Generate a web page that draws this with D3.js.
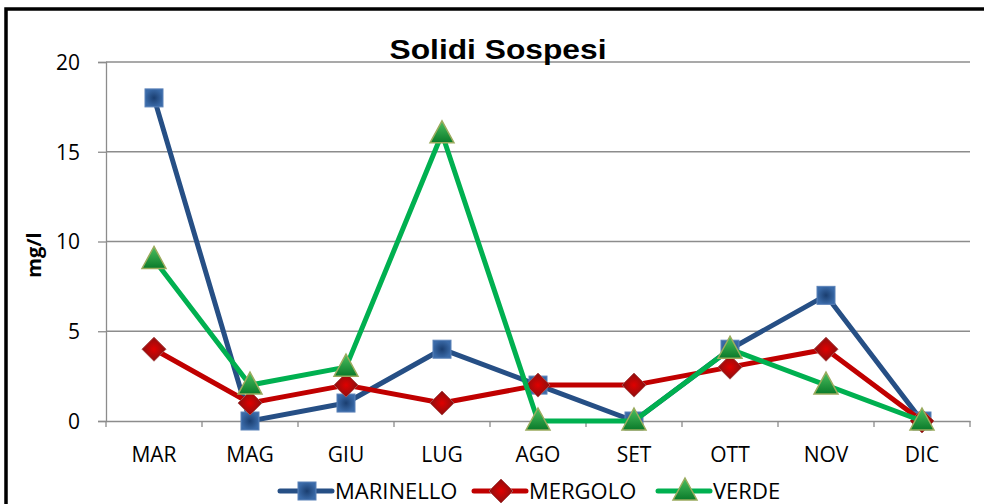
<!DOCTYPE html>
<html>
<head>
<meta charset="utf-8">
<script src="https://cdn.jsdelivr.net/npm/d3@7"></script>
<style>
  body { margin: 0; background: #fff; }
  svg { display: block; }
</style>
</head>
<body>
<div id="chart"></div>
<script>
// chart data
let months = ["MAR", "MAG", "GIU", "LUG", "AGO", "SET", "OTT", "NOV", "DIC"];
let marinello = [18, 0, 1, 4, 2, 0, 4, 7, 0];
let mergolo = [4, 1, 2, 1, 2, 2, 3, 4, 0];
let verde = [9, 2, 3, 16, 0, 0, 4, 2, 0];
let yTicks = [0, 5, 10, 15, 20];

let series = [
    {name: "MARINELLO", values: marinello, color: "#264F85", shape: "square"},
    {name: "MERGOLO", values: mergolo, color: "#C00000", shape: "diamond"},
    {name: "VERDE", values: verde, color: "#00B050", shape: "triangle"}
];

let W = 984, H = 504;
let margin = {left: 106, right: 14, top: 62, bottom: 83};
let font = "'Open Sans', sans-serif";

let svg = d3.select("#chart").append("svg")
    .attr("width", W)
    .attr("height", H);

let defs = svg.append("defs");
let sq = defs.append("radialGradient").attr("id", "gSq");
sq.append("stop").attr("offset", "0%").attr("stop-color", "#1a3e70");
sq.append("stop").attr("offset", "100%").attr("stop-color", "#3a6aa8");
let dm = defs.append("radialGradient").attr("id", "gDm");
dm.append("stop").attr("offset", "0%").attr("stop-color", "#e00000");
dm.append("stop").attr("offset", "100%").attr("stop-color", "#8a0f0f");
let tr = defs.append("linearGradient").attr("id", "gTr")
    .attr("x1", 0).attr("y1", 0).attr("x2", 0).attr("y2", 1);
tr.append("stop").attr("offset", "0%").attr("stop-color", "#4cc060");
tr.append("stop").attr("offset", "100%").attr("stop-color", "#0a7a2a");

// outer frame
svg.append("rect")
    .attr("x", 6).attr("y", 9)
    .attr("width", W + 20).attr("height", H + 20)
    .attr("fill", "none")
    .attr("stroke", "#000")
    .attr("stroke-width", 3.5);

let x = d3.scaleBand().domain(months)
    .range([margin.left, W - margin.right]);
let y = d3.scaleLinear().domain([0, 20])
    .range([H - margin.bottom, margin.top]);

// gridlines
svg.append("g").selectAll("line")
    .data(yTicks.filter(function(d) { return d > 0; }))
    .enter().append("line")
    .attr("x1", margin.left).attr("x2", W - margin.right)
    .attr("y1", function(d) { return y(d); })
    .attr("y2", function(d) { return y(d); })
    .attr("stroke", "#8c8c8c")
    .attr("stroke-width", 1.3);

// y axis
let yAxis = svg.append("g")
    .attr("transform", "translate(" + margin.left + ",0)")
    .call(d3.axisLeft(y).tickValues(yTicks).tickSize(8).tickPadding(18));
// x axis
let xAxis = svg.append("g")
    .attr("transform", "translate(0," + y(0) + ")")
    .call(d3.axisBottom(x).tickSize(0).tickPadding(26));

xAxis.selectAll(".tick")
    .append("line")
    .attr("x1", -x.bandwidth() / 2).attr("x2", -x.bandwidth() / 2)
    .attr("y1", 0).attr("y2", 6);
xAxis.append("line")
    .attr("x1", W - margin.right).attr("x2", W - margin.right)
    .attr("y1", 0).attr("y2", 6);

[xAxis, yAxis].forEach(function(a) {
    a.select(".domain").attr("stroke", "#8c8c8c").attr("stroke-width", 1.3);
    a.selectAll("line").attr("stroke", "#8c8c8c").attr("stroke-width", 1.3);
    a.selectAll("text")
        .attr("fill", "#000")
        .style("font-family", font)
        .style("font-size", "21px");
});
yAxis.selectAll("text").attr("dy", "0.35em");

// title
svg.append("text")
    .attr("x", 498).attr("y", 59)
    .attr("text-anchor", "middle")
    .style("font-family", "'Liberation Sans', Arial, sans-serif")
    .style("font-weight", "bold")
    .style("font-size", "28px")
    .attr("textLength", 217)
    .attr("lengthAdjust", "spacingAndGlyphs")
    .text("Solidi Sospesi");

// y label
svg.append("text")
    .attr("transform", "translate(41," + 255 + ") rotate(-90)")
    .attr("text-anchor", "middle")
    .style("font-family", font)
    .style("font-weight", "bold")
    .style("font-size", "20px")
    .text("mg/l");

function xc(i) { return x(months[i]) + x.bandwidth() / 2; }

function drawMarker(g, shape, cx, cy) {
    if (shape == "square") {
        g.append("rect")
            .attr("x", cx - 9).attr("y", cy - 9)
            .attr("width", 18).attr("height", 18)
            .attr("fill", "url(#gSq)")
            .attr("stroke", "#5b82b8").attr("stroke-width", 1);
    } else if (shape == "diamond") {
        g.append("path")
            .attr("d", "M" + cx + "," + (cy - 12) + "L" + (cx + 12) + "," + cy +
                "L" + cx + "," + (cy + 12) + "L" + (cx - 12) + "," + cy + "Z")
            .attr("fill", "url(#gDm)")
            .attr("stroke", "#a85050").attr("stroke-width", 1);
    } else {
        g.append("path")
            .attr("d", "M" + cx + "," + (cy - 13) + "L" + (cx + 12) + "," + (cy + 9) +
                "L" + (cx - 12) + "," + (cy + 9) + "Z")
            .attr("fill", "url(#gTr)")
            .attr("stroke", "#9bab5e").attr("stroke-width", 1.5);
    }
}

let line = d3.line()
    .x(function(d, i) { return xc(i); })
    .y(function(d) { return y(d); });

series.forEach(function(s) {
    let g = svg.append("g");
    g.append("path")
        .datum(s.values)
        .attr("d", line)
        .attr("fill", "none")
        .attr("stroke", s.color)
        .attr("stroke-width", 5)
        .attr("stroke-linejoin", "round");
    s.values.forEach(function(v, i) {
        drawMarker(g, s.shape, xc(i), y(v));
    });
});

// legend
let legX = [280, 474, 658];
let legY = 491;
series.forEach(function(s, i) {
    let g = svg.append("g");
    g.append("line")
        .attr("x1", legX[i]).attr("x2", legX[i] + 52)
        .attr("y1", legY).attr("y2", legY)
        .attr("stroke", s.color)
        .attr("stroke-width", 5)
        .attr("stroke-linecap", "round");
    drawMarker(g, s.shape, legX[i] + 27, legY);
    g.append("text")
        .attr("x", legX[i] + 55).attr("y", legY)
        .attr("dy", "0.36em")
        .style("font-family", font)
        .style("font-size", "22px")
        .text(s.name);
});
</script>
</body>
</html>
